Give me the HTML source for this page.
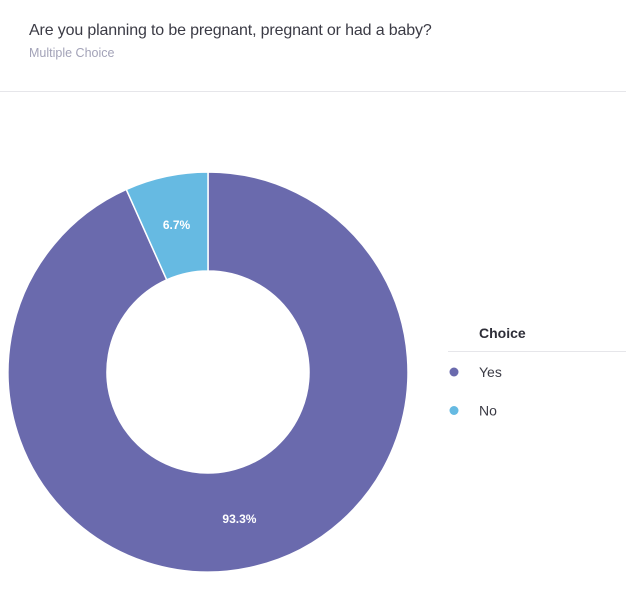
<!DOCTYPE html>
<html><head><meta charset="utf-8"><style>
body{margin:0;width:626px;height:600px;background:#fff;font-family:"Liberation Sans",sans-serif;overflow:hidden;position:relative}
</style></head><body>
<div style="position:absolute;left:29px;top:22px;font-size:16px;letter-spacing:-0.15px;color:#3b3b45">Are you planning to be pregnant, pregnant or had a baby?</div>
<div style="position:absolute;left:29px;top:46px;font-size:12.5px;color:#a3a3b8">Multiple Choice</div>
<div style="position:absolute;left:0;top:91px;width:626px;height:1px;background:#e6e6ea"></div>
<svg id="chart" width="626" height="600" style="position:absolute;left:0;top:0"></svg>
<script>
const categories=["Yes","No"];
const values=[93.3,6.7];
const colors=["#6a6aad","#66bae2"];
const svg=document.getElementById('chart');
const NS='http://www.w3.org/2000/svg';
const cx=208,cy=372,R=200,r=101;
const total=values.reduce((a,b)=>a+b,0);
function pt(a,rad){return [cx+rad*Math.sin(a),cy-rad*Math.cos(a)];}
let start=0;
values.forEach((v,i)=>{
  const sweep=v/total*2*Math.PI;
  const a0=start, a1=start+sweep;
  const [x0,y0]=pt(a0,R),[x1,y1]=pt(a1,R),[x2,y2]=pt(a1,r),[x3,y3]=pt(a0,r);
  const large=sweep>Math.PI?1:0;
  const p=document.createElementNS(NS,'path');
  p.setAttribute('d',`M${x0},${y0}A${R},${R} 0 ${large} 1 ${x1},${y1}L${x2},${y2}A${r},${r} 0 ${large} 0 ${x3},${y3}Z`);
  p.setAttribute('fill',colors[i]);p.setAttribute('stroke','#fff');p.setAttribute('stroke-width','1.5');
  
  
  svg.appendChild(p);
  const mid=(a0+a1)/2;const [lx,ly]=pt(mid,(R+r)/2);
  const t=document.createElementNS(NS,'text');
  t.setAttribute('x',lx);t.setAttribute('y',ly+4);t.setAttribute('text-anchor','middle');
  t.setAttribute('fill','#fff');t.setAttribute('font-size','12');t.setAttribute('font-weight','bold');
  
  
  t.textContent=v.toFixed(1)+'%';
  svg.appendChild(t);
  start=a1;
});
const lt=document.createElementNS(NS,'text');
lt.setAttribute('x',479);lt.setAttribute('y',338);lt.setAttribute('font-size','14');lt.setAttribute('font-weight','bold');lt.setAttribute('fill','#2e2e38');


lt.textContent='Choice';svg.appendChild(lt);
const ln=document.createElementNS(NS,'rect');
ln.setAttribute('x',448);ln.setAttribute('y',351);ln.setAttribute('width',178);ln.setAttribute('height',1);ln.setAttribute('fill','#e6e6ea');


svg.appendChild(ln);
categories.forEach((c,i)=>{
  const g=document.createElementNS(NS,'g');
  
  
  const y=372+i*38.5;
  const d=document.createElementNS(NS,'circle');
  d.setAttribute('cx',454);d.setAttribute('cy',y);d.setAttribute('r',4.5);d.setAttribute('fill',colors[i]);
  g.appendChild(d);
  const t=document.createElementNS(NS,'text');
  t.setAttribute('x',479);t.setAttribute('y',y+5);t.setAttribute('font-size','14');t.setAttribute('fill','#3b3b45');
  t.textContent=c;g.appendChild(t);
  svg.appendChild(g);
});
</script>
</body></html>
